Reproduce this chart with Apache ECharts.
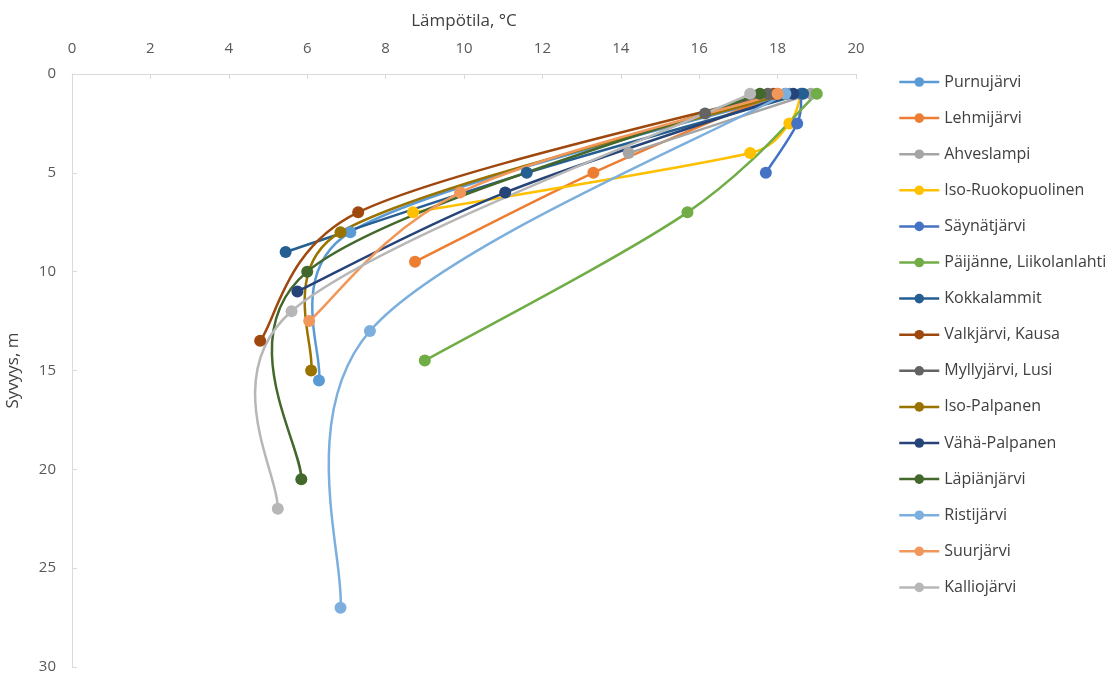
<!DOCTYPE html>
<html>
<head>
<meta charset="utf-8">
<script src="https://cdn.jsdelivr.net/npm/echarts@6/dist/echarts.min.js"></script>
<style>html,body{margin:0;padding:0;background:#fff}#c{width:1118px;height:675px}</style>
</head>
<body>
<div id="c"></div>
<script>
// Each series: [temperature °C, depth m]
const names = ['Purnujärvi','Lehmijärvi','Ahveslampi','Iso-Ruokopuolinen','Säynätjärvi','Päijänne, Liikolanlahti','Kokkalammit','Valkjärvi, Kausa','Myllyjärvi, Lusi','Iso-Palpanen','Vähä-Palpanen','Läpiänjärvi','Ristijärvi','Suurjärvi','Kalliojärvi'];
const colors = ['#5B9BD5','#ED7D31','#A5A5A5','#FFC000','#4472C4','#70AD47','#255E91','#9E480E','#636363','#997300','#264478','#43682B','#7CAFDD','#F1975A','#B7B7B7'];
const purnujarvi   = [[18.3,1],[7.1,8],[6.3,15.5]];
const lehmijarvi   = [[18.0,1],[13.3,5],[8.75,9.5]];
const ahveslampi   = [[18.85,1],[14.2,4]];
const isoRuoko     = [[18.6,1],[18.3,2.5],[17.3,4],[8.7,7]];
const saynatjarvi  = [[18.6,1],[18.5,2.5],[17.7,5]];
const paijanne     = [[19.0,1],[15.7,7],[9.0,14.5]];
const kokkalammit  = [[18.65,1],[11.6,5],[5.45,9]];
const valkjarvi    = [[17.9,1],[7.3,7],[4.8,13.5]];
const myllyjarvi   = [[17.75,1],[16.15,2]];
const isoPalpanen  = [[18.2,1],[6.85,8],[6.1,15]];
const vahaPalpanen = [[18.4,1],[11.05,6],[5.75,11]];
const lapianjarvi  = [[17.55,1],[6.0,10],[5.85,20.5]];
const ristijarvi   = [[18.2,1],[7.6,13],[6.85,27]];
const suurjarvi    = [[18.0,1],[9.9,6],[6.05,12.5]];
const kalliojarvi  = [[17.3,1],[5.6,12],[5.25,22]];
const allData = [purnujarvi,lehmijarvi,ahveslampi,isoRuoko,saynatjarvi,paijanne,kokkalammit,valkjarvi,myllyjarvi,isoPalpanen,vahaPalpanen,lapianjarvi,ristijarvi,suurjarvi,kalliojarvi];
const xTicks = [0,2,4,6,8,10,12,14,16,18,20];
const yTicks = [0,5,10,15,20,25,30];

const chart = echarts.init(document.getElementById('c'));
const font = 'Open Sans';
const LW = 2.5;

// Spreadsheet-style smoothed segment between point i and i+1, positioned through the axes' scales
function arm(a, b, segLen) {
  let dx = (b[0] - a[0]) / 6, dy = (b[1] - a[1]) / 6;
  const len = Math.hypot(dx, dy), cap = segLen / 2;
  if (len > cap && len > 0) { dx *= cap / len; dy *= cap / len; }
  return [dx, dy];
}
function curveRenderer(k) {
  return function (params, api) {
    const pts = allData[k];
    const i = params.dataIndex;
    if (i >= pts.length - 1) return null;
    const P = j => api.coord(pts[Math.max(0, Math.min(pts.length - 1, j))]);
    const p0 = P(i - 1), p1 = P(i), p2 = P(i + 1), p3 = P(i + 2);
    const d12 = Math.hypot(p2[0] - p1[0], p2[1] - p1[1]);
    const a1 = arm(p0, p2, d12), a2 = arm(p1, p3, d12);
    return {
      type: 'bezierCurve',
      shape: {
        x1: p1[0], y1: p1[1], x2: p2[0], y2: p2[1],
        cpx1: p1[0] + a1[0], cpy1: p1[1] + a1[1],
        cpx2: p2[0] - a2[0], cpy2: p2[1] - a2[1]
      },
      style: {stroke: colors[k], lineWidth: LW, fill: null, lineCap: 'round'},
      silent: true
    };
  };
}

const series = [];
names.forEach((n, k) => {
  series.push({
    name: n + ' (käyrä)', type: 'custom', data: allData[k], renderItem: curveRenderer(k),
    encode: {x: 0, y: 1}, silent: true, clip: true
  });
  series.push({
    name: n, type: 'line', data: allData[k], smooth: false,
    symbol: 'circle', symbolSize: 12, showAllSymbol: true,
    lineStyle: {width: LW, color: colors[k], opacity: 0},
    itemStyle: {color: colors[k]},
    emphasis: {disabled: true}
  });
});

chart.setOption({
  animation: false,
  color: colors,
  grid: {left: 72, top: 74, right: 262, bottom: 8, containLabel: false, outerBoundsMode: 'none'},
  legend: {
    orient: 'vertical', left: 893, top: 69, itemGap: 20.1,
    itemWidth: 40, itemHeight: 12,
    lineStyle: {opacity: 1, width: LW},
    textStyle: {fontFamily: font, fontSize: 16, color: '#404040'},
    data: names
  },
  xAxis: {
    type: 'value', position: 'top', min: xTicks[0], max: xTicks[xTicks.length-1], interval: 2,
    name: 'Lämpötila, °C', nameLocation: 'middle', nameGap: 44,
    nameTextStyle: {fontFamily: font, fontSize: 17, color: '#404040'},
    axisLine: {show: true, lineStyle: {color: '#D9D9D9', width: 1}},
    axisTick: {show: true, inside: true, length: 5, lineStyle: {color: '#D9D9D9'}},
    axisLabel: {fontFamily: font, fontSize: 15, color: '#595959', margin: 18},
    splitLine: {show: false}
  },
  yAxis: {
    type: 'value', inverse: true, min: yTicks[0], max: yTicks[yTicks.length-1], interval: 5,
    name: 'Syvyys, m', nameLocation: 'middle', nameGap: 50, nameRotate: 90,
    nameTextStyle: {fontFamily: font, fontSize: 17, color: '#404040'},
    axisLine: {show: true, lineStyle: {color: '#D9D9D9', width: 1}},
    axisTick: {show: true, inside: true, length: 5, lineStyle: {color: '#D9D9D9'}},
    axisLabel: {fontFamily: font, fontSize: 15, color: '#595959', margin: 16},
    splitLine: {show: false}
  },
  series: series
});
</script>
</body>
</html>
